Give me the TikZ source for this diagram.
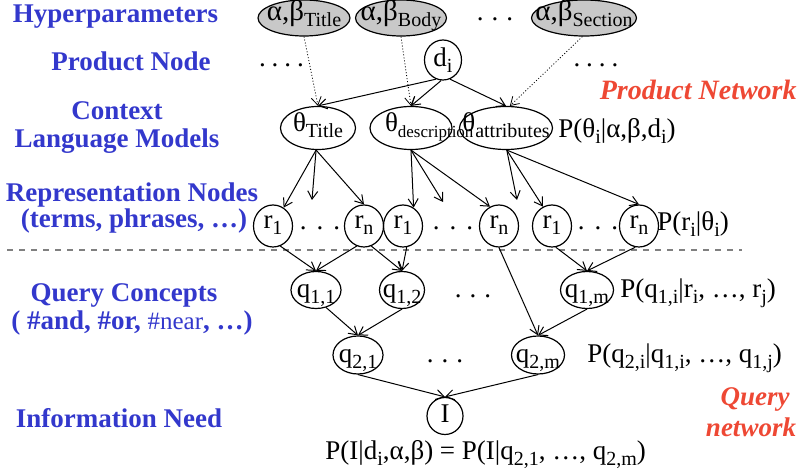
\documentclass[tikz,border=0pt]{standalone}
\usepackage{xcolor}
\usepackage{fontspec}
\setmainfont{Liberation Serif}
\usepackage{tikz}
\usetikzlibrary{shapes.geometric,arrows.meta}

\definecolor{labelblue}{RGB}{51,56,204}
\definecolor{netred}{RGB}{238,72,52}
\definecolor{hypgray}{RGB}{200,200,200}

% lowered index and centred node text
\newcommand{\lo}[2][10pt]{\raisebox{-3pt}{\fontsize{#1}{#1}\selectfont #2}}
\newcommand{\ctr}[1]{\makebox[0pt]{#1}}

\begin{document}
\begin{tikzpicture}[x=0.5pt,y=-0.5pt,
    font=\fontsize{13.5pt}{16pt}\selectfont,
    hyper/.style={ellipse, draw, fill=hypgray, line width=0.6pt, inner sep=0pt, minimum height=18pt, text height=7pt, text depth=4pt, font=\fontsize{14.5pt}{16pt}\selectfont},
    theta/.style={ellipse, draw, line width=0.6pt, inner sep=0pt, minimum height=21.5pt, text height=8pt, text depth=4pt},
    var/.style={ellipse, draw, line width=0.6pt, inner sep=0pt, minimum width=19.5pt, minimum height=21pt, text height=7.5pt, text depth=5pt},
    qry/.style={ellipse, draw, line width=0.6pt, inner sep=0pt, minimum height=18.5pt, text height=10pt, text depth=2pt},
    lbl/.style={font=\fontsize{13.5pt}{16pt}\selectfont\bfseries, text=labelblue, anchor=base},
    net/.style={font=\fontsize{13.5pt}{16pt}\selectfont\bfseries\itshape, text=netred},
    prob/.style={anchor=base west, inner sep=0pt},
    arr/.style={-{Straight Barb[length=4pt,width=5pt]}, line width=0.5pt},
    hyparr/.style={arr, densely dotted, line width=0.4pt}]
    \useasboundingbox (0,0) rectangle (799,469);

    % Labels on the left
    \node[lbl] (hyp) at (115.5,23) {Hyperparameters};
    \node[lbl] (pnode) at (131,71) {Product Node};
    \node[lbl] (ctx) at (117,120) {Context};
    \node[lbl] (lm) at (117,148) {Language Models};
    \node[lbl] (rep) at (132,202) {Representation Nodes};
    \node[lbl] (terms) at (134,228) {(terms, phrases, …)};
    \node[lbl] (qc) at (124,302) {Query Concepts};
    \node[lbl] (ops) at (132,330) {( \#and, \#or, {\mdseries\fontsize{12.5pt}{14pt}\selectfont\#near}, …)};
    \node[lbl] (need) at (119,428) {Information Need};

    % Hyperparameters
    \node[hyper, minimum width=46pt] (h1) at (304,18) {\ctr{α,β\lo{Title}}};
    \node[hyper, minimum width=45.5pt] (h2) at (401,18) {\ctr{α,β\lo{Body}}};
    \node[anchor=base] (hdots) at (495,21) {.\hspace{4pt}.\hspace{4pt}.};
    \node[hyper, minimum width=52.5pt] (h3) at (584,18) {\ctr{α,β\lo{Section}}};

    % Product node
    \node[anchor=base] (ldots) at (281.5,67) {.\hspace{3pt}.\hspace{3pt}.\hspace{3pt}.};
    \node[var, minimum width=18.5pt, minimum height=20pt, text height=9pt, text depth=2pt] (d) at (443,60) {d\lo{i}};
    \node[anchor=base] (rdots) at (596,67) {.\hspace{3pt}.\hspace{3pt}.\hspace{3pt}.};
    \node[net, anchor=base east, inner sep=0pt, font=\fontsize{14pt}{16pt}\selectfont\bfseries\itshape] (pnet) at (797,100) {Product Network};

    % Context language models
    \node[theta, minimum width=37.5pt] (t1) at (318,128) {\ctr{θ\lo{Title}}};
    \node[theta, minimum width=41pt] (t2) at (411,128) {\makebox[0pt][l]{\hspace*{-13pt}θ\lo[8.5pt]{description}}};
    \node[theta, minimum width=46.5pt] (t3) at (506,128) {\ctr{θ\lo{attributes}}};
    \node[prob] (pt) at (558,138) {P(θ\lo{i}|α,β,d\lo{i})};

    % Representation nodes
    \node[var] (r11) at (273,226) {r\lo{1}};
    \node[anchor=base] (rd1) at (320,230) {.\hspace{5pt}.\hspace{5pt}.};
    \node[var] (r1n) at (364,226) {r\lo{n}};
    \node[var] (r21) at (403,226) {r\lo{1}};
    \node[anchor=base] (rd2) at (453,230) {.\hspace{5pt}.\hspace{5pt}.};
    \node[var] (r2n) at (499,226) {r\lo{n}};
    \node[var] (r31) at (552,226) {r\lo{1}};
    \node[anchor=base] (rd3) at (598,230) {.\hspace{5pt}.\hspace{5pt}.};
    \node[var] (r3n) at (639,226) {r\lo{n}};
    \node[prob] (pr) at (657,231) {P(r\lo{i}|θ\lo{i})};

    % Split between the two networks
    \coordinate (sl) at (7,250);
    \coordinate (sr) at (742,250);
    \draw[dashed, gray, line width=0.6pt] (sl) -- (sr);

    % Query concepts
    \node[qry, minimum width=25pt] (q11) at (316,290) {\ctr{q\lo{1,1}}};
    \node[qry, minimum width=22.5pt] (q12) at (402,290) {\ctr{q\lo{1,2}}};
    \node[anchor=base] (qd1) at (473,298) {.\hspace{4pt}.\hspace{4pt}.};
    \node[qry, minimum width=26.5pt] (q1m) at (587,290) {\ctr{q\lo{1,m}}};
    \node[prob] (pq1) at (620,298) {P(q\lo{1,i}|r\lo{i}, …, r\lo{j})};

    \node[qry, minimum width=25pt, minimum height=19pt] (q21) at (358,355) {\ctr{q\lo{2,1}}};
    \node[anchor=base] (qd2) at (445,363) {.\hspace{4pt}.\hspace{4pt}.};
    \node[qry, minimum width=26.5pt, minimum height=19pt] (q2m) at (538,355) {\ctr{q\lo{2,m}}};
    \node[prob] (pq2) at (587,363) {P(q\lo{2,i}|q\lo{1,i}, …, q\lo{1,j})};

    % Information need
    \node[var, minimum width=18pt, minimum height=18.5pt, text height=9pt, text depth=2pt] (I) at (445,416) {I};
    \node[prob] (pI) at (325,460) {P(I|d\lo{i},α,β) = P(I|q\lo{2,1}, …, q\lo{2,m})};
    \node[net, anchor=base] (qnet1) at (755,406) {Query};
    \node[net, anchor=base] (qnet2) at (751,437) {network};

    % Hyperparameters to language models
    \draw[hyparr] (h1.south) -- (t1.north);
    \draw[hyparr] (h2.south) -- (t2.north);
    \draw[hyparr] (h3.265) -- (t3.80);

    % Product node to language models
    \draw[arr] (d.250) -- (t1.north);
    \draw[arr] (d.265) -- (t2.north);
    \draw[arr] (d.290) -- (t3.north);

    % Language models to representation nodes
    \coordinate (e1) at (312,200);
    \coordinate (e2) at (443,202);
    \coordinate (e3) at (517,200);
    \draw[arr] (t1.265) -- (r11.60);
    \draw[arr] (t1.265) -- (e1);
    \draw[arr] (t1.265) -- (r1n.north);
    \draw[arr] (t2.south) -- (r21.60);
    \draw[arr] (t2.south) -- (e2);
    \draw[arr] (t2.south) -- (r2n.115);
    \draw[arr] (t3.272) -- (e3);
    \draw[arr] (t3.272) -- (r31.115);
    \draw[arr] (t3.272) -- (r3n.north);

    % Representation nodes to query concepts
    \draw[arr] (r11.290) -- (q11.north);
    \draw[arr] (r1n.250) -- (q11.north);
    \draw[arr] (r1n.290) -- (q12.north);
    \draw[arr] (r21.280) -- (q12.north);
    \draw[arr] (r31.280) -- (q1m.north);
    \draw[arr] (r3n.260) -- (q1m.north);
    \draw[arr] (r2n.south) -- (q2m.north);

    % Query concepts to information need
    \draw[arr] (q11.300) -- (q21.north);
    \draw[arr] (q12.south) -- (q21.north);
    \draw[arr] (q1m.south) -- (q2m.north);
    \draw[arr] (q21.south) -- (I.north);
    \draw[arr] (q2m.south) -- (I.north);
\end{tikzpicture}
\end{document}
